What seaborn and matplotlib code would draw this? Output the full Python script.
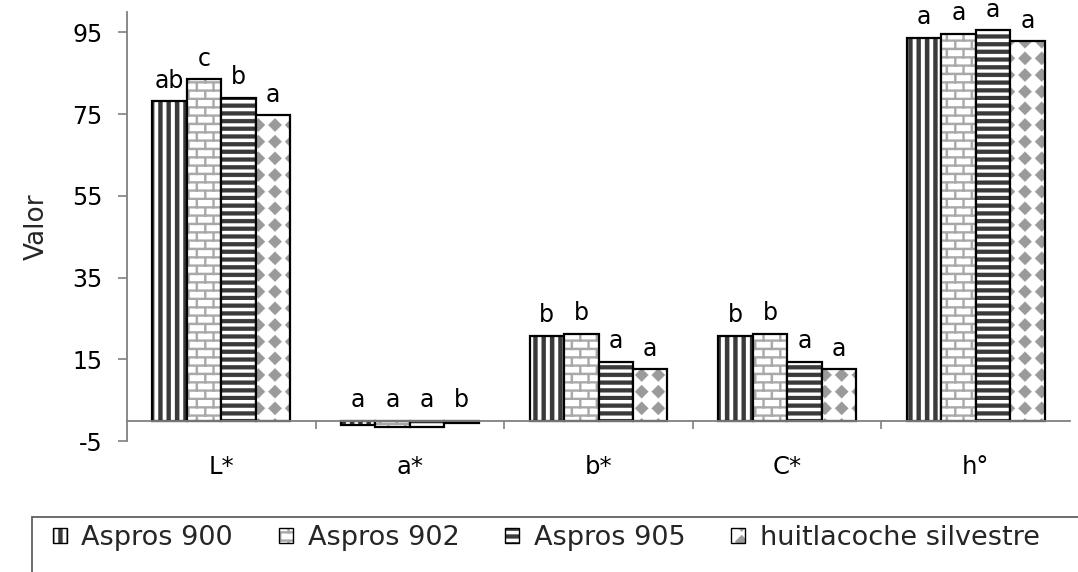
import warnings
import numpy as np
import pandas as pd
import matplotlib
matplotlib.use("Agg")
import matplotlib.pyplot as plt
import matplotlib.hatch as mhatch
from matplotlib.path import Path
from matplotlib.patches import Patch, Rectangle
from matplotlib.colors import to_rgba
from matplotlib.ticker import FixedLocator
import seaborn as sns

warnings.filterwarnings("ignore")

# ---- data -------------------------------------------------------------
parametros = ["L*", "a*", "b*", "C*", "h°"]
muestras = ["Aspros 900", "Aspros 902", "Aspros 905", "huitlacoche silvestre"]

aspros_900 = [78.1, -1.1, 20.8, 20.8, 93.7]
aspros_902 = [83.6, -1.6, 21.3, 21.3, 94.7]
aspros_905 = [79.0, -1.6, 14.4, 14.4, 95.5]
silvestre = [74.7, -0.7, 12.6, 12.6, 92.9]

letras_900 = ["ab", "a", "b", "b", "a"]
letras_902 = ["c", "a", "b", "b", "a"]
letras_905 = ["b", "a", "a", "a", "a"]
letras_silv = ["a", "b", "a", "a", "a"]

y_ticks = [-5, 15, 35, 55, 75, 95]

valores = [aspros_900, aspros_902, aspros_905, silvestre]
letras = [letras_900, letras_902, letras_905, letras_silv]

df = pd.DataFrame({
    "parametro": np.tile(parametros, len(muestras)),
    "muestra": np.repeat(muestras, len(parametros)),
    "valor": np.concatenate(valores),
})


# ---- custom fill patterns (filled shapes in the unit hatch tile) -----
def _rect(x0, y0, x1, y1):
    return [(x0, y0), (x1, y0), (x1, y1), (x0, y1), (x0, y0)]


class ShapeHatch(mhatch.HatchPatternBase):
    char = None

    def __init__(self, hatch, density):
        self.polys = self.build() if (self.char in hatch) else []
        self.num_vertices = sum(len(p) for p in self.polys)

    def set_vertices_and_codes(self, vertices, codes):
        verts, cds = [], []
        for poly in self.polys:
            verts += poly
            cds += [Path.MOVETO] + [Path.LINETO] * (len(poly) - 2) + [Path.CLOSEPOLY]
        vertices[:] = verts
        codes[:] = cds


class VStripes(ShapeHatch):
    char = "v"
    n, frac = 12, 0.5

    def build(self):
        w = 1.0 / self.n
        return [_rect(i * w, -0.01, i * w + w * self.frac, 1.01) for i in range(self.n)]


class HStripes(ShapeHatch):
    char = "h"
    n, frac = 13, 0.52

    def build(self):
        w = 1.0 / self.n
        return [_rect(-0.01, i * w, 1.01, i * w + w * self.frac) for i in range(self.n)]


class Bricks(ShapeHatch):
    char = "k"
    rows, cols, t = 12, 6, 0.021

    def build(self):
        polys = []
        rh = 1.0 / self.rows
        cw = 1.0 / self.cols
        t = self.t
        for i in range(self.rows):
            y0 = i * rh
            polys.append(_rect(-0.01, y0, 1.01, y0 + t))
            off = 0.25 + 0.5 * (i % 2)
            for j in range(self.cols):
                x = (j + off) * cw
                polys.append(_rect(x, y0, x + t, y0 + rh))
        return polys


class Diamonds(ShapeHatch):
    char = "d"
    n, r = 6, 0.40

    def build(self):
        polys = []
        h = self.r / self.n
        for i in range(self.n):
            for j in range(self.n):
                cx = (j + 0.5) / self.n
                cy = (i + 0.5) / self.n
                polys.append([(cx, cy + h), (cx + h, cy), (cx, cy - h),
                              (cx - h, cy), (cx, cy + h)])
        return polys


mhatch._hatch_types.extend([VStripes, HStripes, Bricks, Diamonds])

# hatch, hatch colour
estilos = [
    ("v", "#3a3a3a"),
    ("k", "#a8a8a8"),
    ("h", "#3a3a3a"),
    ("d", "#9a9a9a"),
]


def aplicar_estilo(p, estilo):
    hatch, color = estilo
    p.set_facecolor("white")
    p.set_edgecolor("black")
    p.set_hatch(hatch)
    if hasattr(p, "set_hatch_linewidth"):
        p.set_hatch_linewidth(0.2)
    else:
        p._hatch_linewidth = 0.2
    if hasattr(p, "set_hatchcolor"):
        p.set_hatchcolor(color)
    else:
        p._hatch_color = to_rgba(color)


# ---- figure -----------------------------------------------------------
sns.set_theme(style="white")
plt.rcParams["font.family"] = ["DejaVu Sans"]
plt.rcParams["hatch.linewidth"] = 0.2
gris = "#808080"

fig = plt.figure(figsize=(10.78, 5.72), dpi=100)
ax = fig.add_axes([0.1178, 0.229, 0.9926 - 0.1178, 0.979 - 0.229])

sns.barplot(data=df, x="parametro", y="valor", hue="muestra", order=parametros,
            hue_order=muestras, width=0.73, errorbar=None, legend=False,
            palette=["white"] * 4, edgecolor="black", linewidth=1.6, ax=ax)

for k, cont in enumerate(ax.containers):
    for p in cont.patches:
        aplicar_estilo(p, estilos[k])
    for p, lab in zip(cont.patches, letras[k]):
        top = max(p.get_y() + p.get_height(), p.get_y(), 0)
        ax.annotate(lab, (p.get_x() + p.get_width() / 2, top),
                    xytext=(0, 6), textcoords="offset points",
                    ha="center", va="bottom", fontsize=17, color="black")

ax.set_xlim(-0.5, len(parametros) - 0.5)
ax.set_ylim(-5, 100)
ax.set_yticks(y_ticks)
ax.set_yticklabels([str(t) for t in y_ticks])

for s in ["top", "right"]:
    ax.spines[s].set_visible(False)
for s in ["left", "bottom"]:
    ax.spines[s].set_color(gris)
    ax.spines[s].set_linewidth(1.3)
ax.spines["bottom"].set_position(("data", 0))

ax.tick_params(axis="y", direction="out", length=6.5, width=1.2, color=gris,
               pad=11, labelsize=17, labelcolor="black", left=True)
ax.tick_params(axis="x", which="major", length=0, pad=25, labelsize=17.5,
               labelcolor="black", bottom=True)
ax.xaxis.set_minor_locator(FixedLocator([i + 0.5 for i in range(len(parametros) - 1)]))
ax.tick_params(axis="x", which="minor", direction="out", length=6, width=1.2,
               color=gris, bottom=True)
ax.set_xlabel("")
ax.set_ylabel("Valor", fontsize=19, labelpad=16)

# ---- legend -----------------------------------------------------------
handles = []
for m, est in zip(muestras, estilos):
    h = Patch(label=m, linewidth=1.0)
    aplicar_estilo(h, est)
    handles.append(h)

fig.legend(handles=handles, loc="upper left", bbox_to_anchor=(53 / 1078, 1 - 525 / 572),
           ncol=4, frameon=False, prop={"size": 19.5},
           handlelength=0.5, handleheight=0.5, handletextpad=0.55,
           columnspacing=1.7, borderpad=0, borderaxespad=0)

fig.add_artist(Rectangle((32 / 1078, -0.2), 1.2, (572 - 517) / 572 + 0.2,
                         transform=fig.transFigure, fill=False,
                         edgecolor="#606060", linewidth=1.3))

fig.savefig("out.png", dpi=100)
